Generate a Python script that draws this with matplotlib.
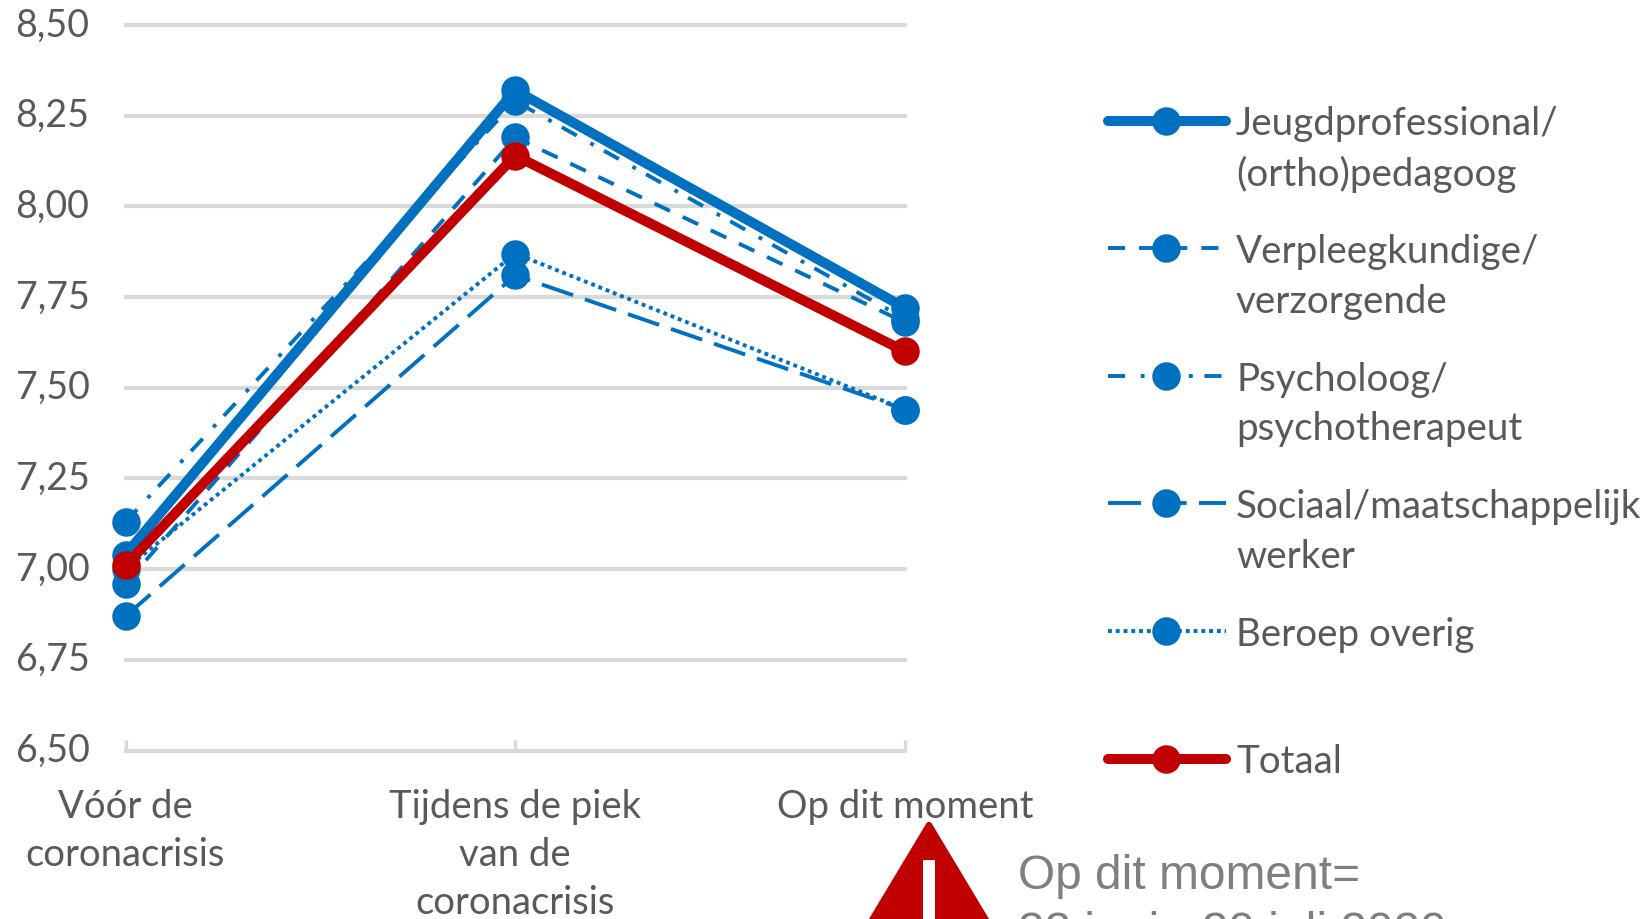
import matplotlib
matplotlib.use("Agg")
import matplotlib.pyplot as plt
from matplotlib.patches import Polygon, Rectangle
from matplotlib.transforms import ScaledTranslation

# waarden
momenten = ["Vóór de\ncoronacrisis", "Tijdens de piek\nvan de\ncoronacrisis", "Op dit moment"]
jeugd = [7.04, 8.32, 7.72]
verpleeg = [6.96, 8.19, 7.68]
psycholoog = [7.13, 8.29, 7.69]
sociaal = [6.87, 7.81, 7.44]
overig = [7.00, 7.87, 7.44]
totaal = [7.01, 8.14, 7.60]
y_ticks = [6.50, 6.75, 7.00, 7.25, 7.50, 7.75, 8.00, 8.25, 8.50]

BLAUW = "#0070c0"
ROOD = "#c00000"
GRIJS = "#595959"
W, H = 1650, 920

plt.rcParams["font.family"] = ["Lato", "DejaVu Sans"]

series = [
    (["Jeugdprofessional/", "(ortho)pedagoog"], jeugd, BLAUW, 7.2, "-"),
    (["Verpleegkundige/", "verzorgende"], verpleeg, BLAUW, 2.8, (0, (4.4, 3.6))),
    (["Psycholoog/", "psychotherapeut"], psycholoog, BLAUW, 2.8, (0, (4.4, 4, 1, 3))),
    (["Sociaal/maatschappelijk", "werker"], sociaal, BLAUW, 2.8, (0, (8.5, 3.2))),
    (["Beroep overig"], overig, BLAUW, 2.8, (0, (1, 1))),
    (["Totaal"], totaal, ROOD, 7.2, "-"),
]

fig = plt.figure(figsize=(W / 100, H / 100), dpi=100)
ax = fig.add_axes([125.5 / W, 1 - 751.5 / H, (905 - 125.5) / W, (751.5 - 26) / H])

x = range(len(momenten))
for naam, waarden, kleur, dikte, stijl in series:
    ax.plot(x, waarden, color=kleur, lw=dikte, ls=stijl, marker="o", ms=20.5,
            mew=0, clip_on=False, zorder=3, solid_capstyle="round", dash_capstyle="butt")

ax.set_xlim(0, 2)
ax.set_ylim(6.5, 8.5)
ax.set_yticks(y_ticks)
ax.set_yticklabels([f"{t:.2f}".replace(".", ",") for t in y_ticks], fontsize=27, color=GRIJS)
ax.set_xticks(list(x))
ax.set_xticklabels(momenten, fontsize=27.5, color=GRIJS, linespacing=1.42)
ax.tick_params(axis="y", length=0, pad=26)
ax.tick_params(axis="x", direction="in", length=8, width=2.5, color="#d9d9d9", pad=27)
ax.grid(axis="y", color="#d9d9d9", lw=3, clip_on=False)
ax.set_axisbelow(True)
for spine in ax.spines.values():
    spine.set_visible(False)

# y-labels staan iets boven de rasterlijn
omhoog = ScaledTranslation(0, 3 / 72, fig.dpi_scale_trans)
for label in ax.get_yticklabels():
    label.set_transform(label.get_transform() + omhoog)

# overlay in pixels voor legenda en waarschuwing
ov = fig.add_axes([0, 0, 1, 1], facecolor="none")
ov.set_xlim(0, W)
ov.set_ylim(H, 0)
ov.axis("off")

rij_y = 121.5
rij_stap = 127.6
for i, (naam, waarden, kleur, dikte, stijl) in enumerate(series):
    y = rij_y + i * rij_stap
    ov.plot([1108, 1226], [y, y], color=kleur, lw=dikte, ls=stijl, solid_capstyle="round", dash_capstyle="butt")
    ov.plot([1166], [y], color=kleur, marker="o", ms=20.5, mew=0)
    for j, regel in enumerate(naam):
        ov.text(1236, y + 3 + j * 49.5, regel, fontsize=27.7, color=GRIJS, va="center", ha="left")

# waarschuwingsdriehoek, loopt door tot buiten de figuur
ov.add_patch(Polygon([[929, 826], [857.6, 945], [1000.4, 945]], closed=True, fc=ROOD, ec=ROOD, lw=4.5, joinstyle="round"))
ov.add_patch(Rectangle((923, 861), 12, 70, fc="white", ec="none"))
ov.text(1018, 877, "Op dit moment=", fontsize=34.5, color="#7f7f7f", family="Liberation Sans", va="center")
ov.text(1018, 934, "22 juni - 20 juli 2020", fontsize=34.5, color="#7f7f7f", family="Liberation Sans", va="center")

fig.savefig("out.png", dpi=100)
